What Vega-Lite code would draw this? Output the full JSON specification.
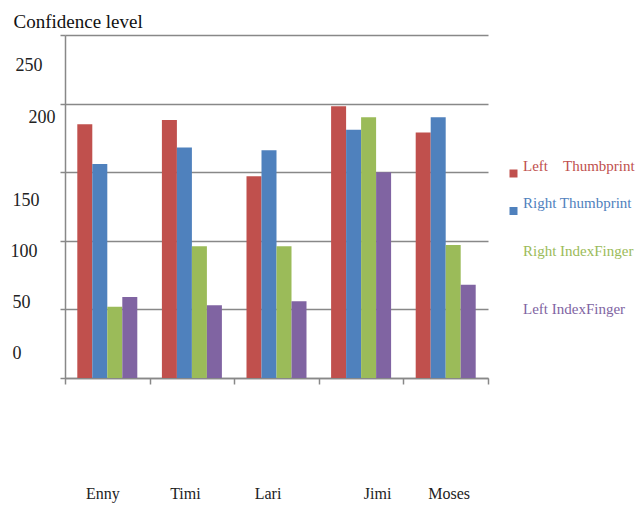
{
  "$schema": "https://vega.github.io/schema/vega-lite/v6.json",
  "width": 423,
  "height": 343,
  "autosize": "none",
  "padding": {"left": 65, "top": 35, "right": 153, "bottom": 133},
  "background": "white",
  "config": {"font": "Liberation Serif", "view": {"stroke": null}},
  "data": {
    "values": [
      {"name": "Enny", "finger": "Left Thumbprint", "value": 185},
      {"name": "Enny", "finger": "Right Thumbprint", "value": 156},
      {"name": "Enny", "finger": "Right IndexFinger", "value": 52},
      {"name": "Enny", "finger": "Left IndexFinger", "value": 59},
      {"name": "Timi", "finger": "Left Thumbprint", "value": 188},
      {"name": "Timi", "finger": "Right Thumbprint", "value": 168},
      {"name": "Timi", "finger": "Right IndexFinger", "value": 96},
      {"name": "Timi", "finger": "Left IndexFinger", "value": 53},
      {"name": "Lari", "finger": "Left Thumbprint", "value": 147},
      {"name": "Lari", "finger": "Right Thumbprint", "value": 166},
      {"name": "Lari", "finger": "Right IndexFinger", "value": 96},
      {"name": "Lari", "finger": "Left IndexFinger", "value": 56},
      {"name": "Jimi", "finger": "Left Thumbprint", "value": 198},
      {"name": "Jimi", "finger": "Right Thumbprint", "value": 181},
      {"name": "Jimi", "finger": "Right IndexFinger", "value": 190},
      {"name": "Jimi", "finger": "Left IndexFinger", "value": 150},
      {"name": "Moses", "finger": "Left Thumbprint", "value": 179},
      {"name": "Moses", "finger": "Right Thumbprint", "value": 190},
      {"name": "Moses", "finger": "Right IndexFinger", "value": 97},
      {"name": "Moses", "finger": "Left IndexFinger", "value": 68}
    ]
  },
  "mark": {"type": "bar"},
  "encoding": {
    "x": {
      "field": "name",
      "type": "nominal",
      "sort": ["Enny", "Timi", "Lari", "Jimi", "Moses"],
      "scale": {"paddingInner": 0, "paddingOuter": 0},
      "axis": {
        "title": null,
        "labelAngle": 0,
        "domainColor": "#888888",
        "domainWidth": 1.5,
        "tickColor": "#888888",
        "tickWidth": 1.5,
        "tickSize": 6,
        "tickBand": "extent",
        "labelFont": "Liberation Serif",
        "labelFontSize": 16,
        "labelColor": "#222222",
        "labelPadding": 109,
        "labelBaseline": "middle",
        "labelOffset": {
          "condition": [
            {"test": "datum.value=='Enny'", "value": -5},
            {"test": "datum.value=='Timi'", "value": -7},
            {"test": "datum.value=='Lari'", "value": -9},
            {"test": "datum.value=='Jimi'", "value": 16}
          ],
          "value": 3
        }
      }
    },
    "xOffset": {
      "field": "finger",
      "sort": ["Left Thumbprint", "Right Thumbprint", "Right IndexFinger", "Left IndexFinger"],
      "scale": {"paddingInner": 0, "paddingOuter": 0.82}
    },
    "y": {
      "field": "value",
      "type": "quantitative",
      "scale": {"domain": [0, 250]},
      "axis": {
        "values": [0, 50, 100, 150, 200, 250],
        "grid": true,
        "gridColor": "#888888",
        "gridWidth": 1.5,
        "domainColor": "#888888",
        "domainWidth": 1.5,
        "tickColor": "#888888",
        "tickWidth": 1.5,
        "tickSize": 5,
        "labelAlign": "left",
        "labelPadding": {
          "condition": [
            {"test": "datum.value==250", "value": 45},
            {"test": "datum.value==200", "value": 32},
            {"test": "datum.value==100", "value": 50}
          ],
          "value": 48
        },
        "labelOffset": {
          "condition": [
            {"test": "datum.value==250", "value": 30},
            {"test": "datum.value==200", "value": 14},
            {"test": "datum.value==150", "value": 28},
            {"test": "datum.value==100", "value": 11},
            {"test": "datum.value==50", "value": -7}
          ],
          "value": -25
        },
        "labelFont": "Liberation Serif",
        "labelFontSize": 18,
        "labelColor": "#222222",
        "title": "Confidence level",
        "titleAngle": 0,
        "titleAlign": "left",
        "titleBaseline": "alphabetic",
        "titleX": -52,
        "titleY": -8,
        "titleFont": "Liberation Serif",
        "titleFontSize": 19,
        "titleFontWeight": "normal",
        "titleColor": "#111111"
      }
    },
    "color": {
      "field": "finger",
      "type": "nominal",
      "sort": ["Left Thumbprint", "Right Thumbprint", "Right IndexFinger", "Left IndexFinger"],
      "scale": {
        "domain": ["Left Thumbprint", "Right Thumbprint", "Right IndexFinger", "Left IndexFinger"],
        "range": ["#C0504D", "#4F81BD", "#9BBB59", "#8064A2"]
      },
      "legend": {
        "orient": "none",
        "legendX": 441,
        "legendY": 131,
        "padding": 0,
        "title": null,
        "symbolType": "square",
        "symbolSize": 64,
        "symbolStrokeWidth": 0,
        "labelFont": "Liberation Serif",
        "labelFontSize": 15,
        "labelOffset": 2,
        "labelLimit": 200,
        "rowPadding": 17.5,
        "labelExpr": "datum.label=='Left Thumbprint'?'Left\u00a0\u00a0\u00a0\u00a0Thumbprint':datum.label",
        "encode": {
          "labels": {
            "update": {
              "fill": {"scale": "color", "field": "value"},
              "dy": {"signal": "datum.value=='Left Thumbprint'?-8:datum.value=='Right Thumbprint'?-8.5:datum.value=='Right IndexFinger'?10:25"}
            }
          },
          "symbols": {
            "update": {
              "opacity": {"signal": "datum.value=='Left Thumbprint'||datum.value=='Right Thumbprint'?1:0"}
            }
          }
        }
      }
    }
  }
}
